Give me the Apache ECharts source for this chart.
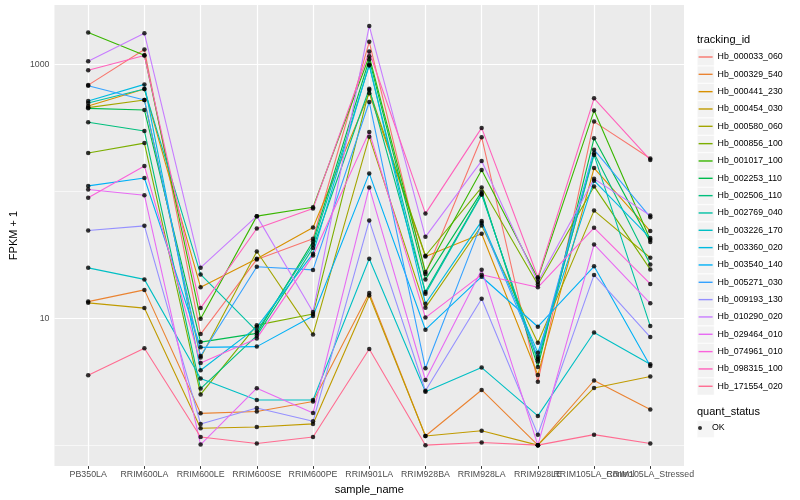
<!DOCTYPE html>
<html><head><meta charset="utf-8">
<script src="https://cdn.jsdelivr.net/npm/echarts@6/dist/echarts.min.js"></script>
<style>html,body{margin:0;padding:0;background:#fff}#c{width:800px;height:500px}</style>
</head><body><div id="c"></div>
<script>
const categories = ['PB350LA','RRIM600LA','RRIM600LE','RRIM600SE','RRIM600PE','RRIM901LA','RRIM928BA','RRIM928LA','RRIM928LE','RRIM105LA_Control','RRIM105LA_Stressed'];
const trackingIds = ['Hb_000033_060','Hb_000329_540','Hb_000441_230','Hb_000454_030','Hb_000580_060','Hb_000856_100','Hb_001017_100','Hb_002253_110','Hb_002506_110','Hb_002769_040','Hb_003226_170','Hb_003360_020','Hb_003540_140','Hb_005271_030','Hb_009193_130','Hb_010290_020','Hb_029464_010','Hb_074961_010','Hb_098315_100','Hb_171554_020'];
const colors = ['#F8766D','#EA8331','#D89000','#C09B00','#A3A500','#7CAE00','#39B600','#00BB4E','#00BF7D','#00C1A3','#00BFC4','#00BAE0','#00B0F6','#35A2FF','#9590FF','#C77CFF','#E76BF3','#FA62DB','#FF62BC','#FF6C91'];
const yTickLabels = [10, 1000];
const yGridMajor = [10, 1000];
const yGridMinor = [1, 100];

const hb000033_060 = [684, 1304, 7.49, 29.0, 42.2, 1499, 22.3, 266, 3.15, 353, 181];
const hb000329_540 = [13.5, 16.7, 1.78, 1.84, 2.21, 15.8, 1.18, 2.72, 1.0, 3.23, 1.91];
const hb000441_230 = [468, 637, 17.5, 29.4, 51.7, 589, 30.6, 46.2, 3.57, 152, 48.5];
const hb000454_030 = [13.2, 12.0, 1.36, 1.39, 1.47, 15.1, 1.18, 1.30, 1.0, 2.82, 3.47];
const hb000580_060 = [455, 522, 4.89, 33.5, 7.45, 268, 12.1, 53.6, 6.41, 70.3, 29.9];
const hb000856_100 = [200, 239, 2.51, 8.81, 10.8, 625, 31.0, 107, 18.4, 109, 24.2];
const hb001017_100 = [1773, 1177, 9.89, 63.6, 74.8, 1155, 23.1, 147, 20.5, 431, 41.4];
const hb002253_110 = [449, 436, 6.48, 7.59, 40.2, 1089, 20.2, 99.1, 4.13, 261, 39.7];
const hb002506_110 = [349, 298, 2.79, 7.28, 35.7, 641, 16.1, 95.6, 4.55, 199, 26.5];
const hb002769_040 = [494, 637, 22.1, 7.91, 37.8, 977, 15.6, 93.9, 4.74, 193, 8.66];
const hb003226_170 = [24.9, 20.2, 3.35, 2.27, 2.27, 29.4, 2.63, 4.08, 1.70, 7.72, 4.33];
const hb003360_020 = [513, 693, 3.89, 8.50, 32.2, 995, 13.0, 58.1, 5.35, 121, 42.7];
const hb003540_140 = [110, 127, 5.89, 5.97, 10.4, 138, 8.11, 21.2, 8.56, 25.6, 4.20];
const hb005271_030 = [677, 522, 5.04, 25.4, 24.0, 504, 4.03, 56.3, 4.94, 212, 62.4];
const hb009193_130 = [49.0, 53.3, 1.47, 1.96, 1.54, 58.7, 2.68, 14.2, 1.21, 21.9, 7.10];
const hb010290_020 = [1056, 1751, 25.0, 63.6, 11.2, 2001, 43.7, 173, 19.3, 125, 64.3];
const hb029464_010 = [103, 92.9, 1.01, 2.81, 1.79, 107, 3.26, 24.1, 1.0, 38.1, 13.1];
const hb074961_010 = [88.9, 158, 4.44, 6.93, 31.2, 293, 10.1, 22.0, 17.5, 51.4, 18.6];
const hb098315_100 = [897, 1170, 12.0, 50.8, 72.9, 1258, 66.6, 315, 21.0, 538, 176];
const hb171554_020 = [3.55, 5.79, 1.16, 1.03, 1.16, 5.71, 1.0, 1.05, 1.0, 1.21, 1.03];

const seriesValues = [hb000033_060, hb000329_540, hb000441_230, hb000454_030, hb000580_060, hb000856_100, hb001017_100, hb002253_110, hb002506_110, hb002769_040, hb003226_170, hb003360_020, hb003540_140, hb005271_030, hb009193_130, hb010290_020, hb029464_010, hb074961_010, hb098315_100, hb171554_020];

const FONT = '"Liberation Sans", Arial, Helvetica, sans-serif';
const catIdx = categories.map((c, i) => i);
const evenIdx = catIdx.filter(i => i % 2 === 0);
const oddIdx = catIdx.filter(i => i % 2 === 1);
const LINE_ICON = 'path://M0,0M14,14M0,6.3L14,6.3L14,7.7L0,7.7Z';

const lineSeries = trackingIds.map((id, i) => ({
  name: id, type: 'line', z: 2, silent: true, xAxisIndex: 0,
  data: seriesValues[i].map((v, j) => [j, v]),
  symbol: 'none',
  lineStyle: { color: colors[i], width: 1.1 },
  itemStyle: { color: colors[i] }
}));

const pointData = [];
seriesValues.forEach(arr => arr.forEach((v, j) => pointData.push([j, v])));

const gridLines = [];
yGridMajor.forEach(v => gridLines.push({ yAxis: v, lineStyle: { width: 1.2 } }));
yGridMinor.forEach(v => gridLines.push({ yAxis: v, lineStyle: { width: 0.6 } }));
catIdx.forEach(i => gridLines.push({ xAxis: i, lineStyle: { width: 1.2 } }));

const labelStyle = { color: '#4D4D4D', fontSize: 8.8, margin: 4, fontFamily: FONT, showMinLabel: true, showMaxLabel: true, hideOverlap: false,
  formatter: v => categories[Math.round(v)] || '' };

const option = {
  animation: false,
  backgroundColor: '#FFFFFF',
  textStyle: { fontFamily: FONT },
  title: [
    { text: 'tracking_id', left: 697, top: 34, padding: 0, textStyle: { fontSize: 11, fontWeight: 'normal', color: '#000', fontFamily: FONT } },
    { text: 'quant_status', left: 697, top: 406, padding: 0, textStyle: { fontSize: 11, fontWeight: 'normal', color: '#000', fontFamily: FONT } }
  ],
  grid: { left: 45, right: 116, top: 5, bottom: 32, show: true, backgroundColor: '#EBEBEB', borderWidth: 0 },
  xAxis: [
    {
      type: 'value', min: -0.6, max: 10.6, position: 'bottom', offset: 0,
      splitLine: { show: false }, axisLine: { show: false },
      axisTick: { show: true, customValues: catIdx, length: 2.75, lineStyle: { color: '#333333', width: 1 } },
      axisLabel: Object.assign({ customValues: evenIdx }, labelStyle),
      name: 'sample_name', nameLocation: 'middle', nameGap: 14,
      nameTextStyle: { fontSize: 11, color: '#000', fontFamily: FONT }
    },
    {
      type: 'value', min: -0.6, max: 10.6, position: 'bottom', offset: 0,
      splitLine: { show: false }, axisLine: { show: false }, axisTick: { show: false },
      axisLabel: Object.assign({ customValues: oddIdx }, labelStyle)
    }
  ],
  yAxis: {
    type: 'log', logBase: 10, min: 0.684, max: 2924,
    splitLine: { show: false }, axisLine: { show: false },
    axisTick: { show: true, customValues: yTickLabels, length: 2.75, lineStyle: { color: '#333333', width: 1 } },
    axisLabel: { customValues: yTickLabels, formatter: v => { const r = Math.round(v); return (r === 10 || r === 1000) ? String(r) : ''; }, color: '#4D4D4D', fontSize: 8.8, margin: 5, fontFamily: FONT },
    name: 'FPKM + 1', nameLocation: 'middle', nameGap: 27, nameRotate: 90,
    nameTextStyle: { fontSize: 11, color: '#000', fontFamily: FONT }
  },
  legend: [
    { data: trackingIds, orient: 'vertical', left: 697, top: 48.6, padding: 0, itemGap: 0, itemWidth: 16.83, itemHeight: 16.83, icon: 'rect', selectedMode: false, z: 3,
      itemStyle: { color: '#F2F2F2', borderColor: '#FFFFFF', borderWidth: 0.5 }, formatter: () => '', textStyle: { fontSize: 8.8 } },
    { data: trackingIds, orient: 'vertical', left: 698.6, top: 50, padding: 0, itemGap: 3.33, itemWidth: 14, itemHeight: 14, icon: LINE_ICON, selectedMode: false, z: 4,
      textStyle: { fontSize: 8.8, color: '#000', fontFamily: FONT } },
    { data: ['OK'], orient: 'vertical', left: 697, top: 420.5, padding: 0, itemWidth: 16.83, itemHeight: 16.83, icon: 'rect', selectedMode: false, z: 3,
      itemStyle: { color: '#F2F2F2', borderColor: '#FFFFFF', borderWidth: 0.5 }, formatter: () => '', textStyle: { fontSize: 8.8 } },
    { data: ['OK'], orient: 'vertical', left: 698, top: 423.5, padding: 0, itemWidth: 14, itemHeight: 4, icon: 'circle', selectedMode: false, z: 4,
      textStyle: { fontSize: 8.8, color: '#000', fontFamily: FONT } }
  ],
  series: [
    { name: '_grid', type: 'line', data: [], z: 1, silent: true, xAxisIndex: 0,
      markLine: { z: 1, silent: true, symbol: ['none', 'none'], label: { show: false }, animation: false,
        lineStyle: { color: '#FFFFFF', type: 'solid', width: 1.2 }, data: gridLines } }
  ].concat(lineSeries).concat([
    { name: 'OK', type: 'scatter', z: 3, silent: true, xAxisIndex: 0, data: pointData, symbol: 'circle', symbolSize: 4.5, itemStyle: { color: '#000000' } }
  ])
};
const chart = echarts.init(document.getElementById('c'));
chart.setOption(option);
</script>
</body></html>
